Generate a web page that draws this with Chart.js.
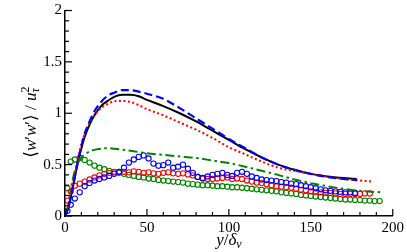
<!DOCTYPE html>
<html>
<head>
<meta charset="utf-8">
<script src="https://cdn.jsdelivr.net/npm/chart.js@4.4.1/dist/chart.umd.min.js"></script>
<style>
html, body { margin: 0; padding: 0; background: #fff; }
</style>
</head>
<body>
<canvas id="myChart" width="407" height="252"></canvas>
<script>
// line curves (y/delta_nu positions and values)
const lineX = [0, 2, 4, 6, 8, 10, 12, 15, 18, 22, 26, 30, 35, 40, 45, 50, 60, 70, 80, 90, 100, 110, 120, 130, 140, 150, 160, 170, 178];
const blackLine = [0, 0.08, 0.22, 0.38, 0.53, 0.66, 0.77, 0.89, 0.98, 1.07, 1.12, 1.16, 1.18, 1.18, 1.165, 1.13, 1.07, 1.00, 0.92, 0.83, 0.74, 0.65, 0.57, 0.50, 0.45, 0.41, 0.385, 0.37, 0.36];
const blueDash = [0, 0.08, 0.22, 0.38, 0.54, 0.68, 0.80, 0.92, 1.02, 1.11, 1.17, 1.20, 1.225, 1.225, 1.21, 1.19, 1.14, 1.05, 0.95, 0.85, 0.75, 0.66, 0.57, 0.50, 0.45, 0.41, 0.38, 0.36, 0.35];

const redX = [0, 2, 4, 6, 8, 10, 12, 15, 18, 22, 26, 30, 35, 40, 45, 50, 60, 70, 80, 90, 100, 110, 120, 130, 140, 150, 160, 170, 180, 188];
const redDot = [0, 0.1, 0.26, 0.42, 0.57, 0.70, 0.80, 0.91, 0.98, 1.05, 1.09, 1.115, 1.12, 1.11, 1.08, 1.04, 0.98, 0.91, 0.84, 0.76, 0.67, 0.60, 0.53, 0.47, 0.44, 0.41, 0.385, 0.36, 0.345, 0.335];

const greenX = [0, 2, 4, 6, 8, 10, 13, 16, 20, 25, 30, 40, 50, 60, 70, 80, 90, 100, 110, 120, 130, 140, 150, 160, 170, 180, 193];
const greenDashDot = [0, 0.12, 0.3, 0.44, 0.52, 0.57, 0.61, 0.635, 0.65, 0.66, 0.655, 0.635, 0.61, 0.595, 0.58, 0.565, 0.54, 0.515, 0.48, 0.44, 0.40, 0.355, 0.32, 0.29, 0.265, 0.245, 0.23];

// circle markers
const circX = [1.5, 3.5, 6, 9, 12, 15, 18, 21, 24, 27, 30, 33, 36, 39, 42, 45, 48, 51, 54, 57, 60, 63, 66, 69, 72, 75, 78, 81, 84, 87, 90, 93, 96, 99, 102, 105, 108, 111, 114, 117, 120, 123, 126, 129, 132, 135, 138, 141, 144, 147, 150, 153, 156, 159, 162, 165, 168, 171, 174, 177, 180, 183, 186, 189, 192];
const blueCirc = [0.05, 0.11, 0.17, 0.23, 0.29, 0.32, 0.345, 0.36, 0.375, 0.39, 0.41, 0.43, 0.47, 0.52, 0.55, 0.575, 0.59, 0.56, 0.51, 0.49, 0.495, 0.52, 0.47, 0.48, 0.50, 0.46, 0.42, 0.38, 0.37, 0.385, 0.40, 0.41, 0.42, 0.40, 0.39, 0.42, 0.43, 0.41, 0.385, 0.37, 0.355, 0.35, 0.345, 0.34, 0.33, 0.325, 0.315, 0.31, 0.30, 0.29, 0.28, 0.27, 0.26, 0.25, 0.245, 0.24, 0.235, 0.23, 0.23, 0.225];
const redCirc = [0.15, 0.24, 0.295, 0.315, 0.335, 0.355, 0.375, 0.395, 0.41, 0.42, 0.425, 0.43, 0.43, 0.425, 0.435, 0.43, 0.42, 0.425, 0.415, 0.41, 0.42, 0.425, 0.415, 0.41, 0.415, 0.405, 0.395, 0.38, 0.365, 0.36, 0.36, 0.365, 0.37, 0.375, 0.36, 0.365, 0.36, 0.345, 0.335, 0.325, 0.32, 0.31, 0.30, 0.29, 0.285, 0.28, 0.275, 0.265, 0.255, 0.25, 0.24, 0.235, 0.23, 0.225, 0.225, 0.22, 0.215, 0.215, 0.215, 0.215, 0.215, 0.22, 0.22];
const greenCirc = [0.27, 0.53, 0.55, 0.565, 0.545, 0.52, 0.49, 0.47, 0.455, 0.44, 0.43, 0.42, 0.41, 0.40, 0.39, 0.38, 0.375, 0.365, 0.36, 0.35, 0.345, 0.34, 0.335, 0.33, 0.325, 0.315, 0.31, 0.305, 0.30, 0.30, 0.295, 0.29, 0.29, 0.285, 0.28, 0.28, 0.275, 0.27, 0.265, 0.26, 0.255, 0.25, 0.245, 0.24, 0.23, 0.225, 0.22, 0.215, 0.205, 0.20, 0.195, 0.19, 0.185, 0.18, 0.175, 0.17, 0.165, 0.16, 0.16, 0.155, 0.155, 0.15, 0.15, 0.145, 0.145];

const SERIF = '"Liberation Serif", "DejaVu Serif", serif';
const GREEN = 'rgb(0, 128, 0)';

function pts(xs, ys) {
  return ys.map((v, i) => ({ x: xs[i], y: v }));
}

function lineSet(xs, ys, color, dash, width) {
  return {
    data: pts(xs, ys),
    showLine: true,
    borderColor: color,
    borderWidth: width,
    borderDash: dash,
    pointRadius: 0,
    fill: false,
    cubicInterpolationMode: 'monotone'
  };
}

function circSet(ys, color) {
  return {
    data: pts(circX, ys),
    showLine: false,
    borderColor: color,
    backgroundColor: 'rgba(0,0,0,0)',
    pointRadius: 2.6,
    pointBorderWidth: 1.1,
    pointStyle: 'circle'
  };
}

// ticks point into the plot, long at labelled values, short otherwise
const inwardTicks = {
  id: 'inwardTicks',
  afterDraw(chart) {
    const { ctx, chartArea } = chart;
    const x = chart.scales.x, y = chart.scales.y;
    ctx.save();
    ctx.strokeStyle = '#000';
    ctx.lineWidth = 1.2;
    x.ticks.forEach(t => {
      const px = x.getPixelForValue(t.value);
      const len = t.value % 50 === 0 ? 7 : 4;
      ctx.beginPath();
      ctx.moveTo(px, chartArea.bottom);
      ctx.lineTo(px, chartArea.bottom - len);
      ctx.stroke();
    });
    y.ticks.forEach(t => {
      const py = y.getPixelForValue(t.value);
      const len = Math.round(t.value * 10) % 5 === 0 ? 7 : 4;
      ctx.beginPath();
      ctx.moveTo(chartArea.left, py);
      ctx.lineTo(chartArea.left + len, py);
      ctx.stroke();
    });
    ctx.restore();
  }
};

// axis titles with sub/superscripts
function drawParts(ctx, parts, cx, baseY) {
  let total = 0;
  parts.forEach(p => { ctx.font = p.font; p.w = p.stack ? 0 : ctx.measureText(p.t).width; total += p.w; });
  let xx = cx - total / 2;
  parts.forEach(p => {
    ctx.font = p.font;
    ctx.fillText(p.t, xx, baseY + (p.dy || 0));
    xx += p.w;
  });
}

const axisTitles = {
  id: 'axisTitles',
  afterDraw(chart) {
    const ctx = chart.ctx;
    const ca = chart.chartArea;
    ctx.save();
    ctx.fillStyle = '#000';
    ctx.textBaseline = 'alphabetic';
    ctx.textAlign = 'left';
    const reg = '17px ' + SERIF, ita = 'italic 17px ' + SERIF;
    const small = '12px ' + SERIF, smallIta = 'italic 12px ' + SERIF;
    drawParts(ctx, [
      { t: 'y', font: ita },
      { t: '/', font: reg },
      { t: '\u03b4', font: ita },
      { t: '\u03bd', font: smallIta, dy: 3 }
    ], (ca.left + ca.right) / 2, 245);

    ctx.translate(36, 123);
    ctx.rotate(-Math.PI / 2);
    drawParts(ctx, [
      { t: '\u27e8', font: reg },
      { t: 'w', font: ita },
      { t: '\u2032', font: reg },
      { t: 'w', font: ita },
      { t: '\u2032', font: reg },
      { t: '\u27e9', font: reg },
      { t: ' / ', font: reg },
      { t: 'u', font: ita },
      { t: '2', font: small, dy: -7, stack: true },
      { t: '\u03c4', font: smallIta, dy: 3 }
    ], 0, 0);
    ctx.restore();
  }
};

const config = {
  type: 'scatter',
  data: {
    datasets: [
      lineSet(lineX, blueDash, 'rgb(0, 0, 255)', [8, 4], 2.2),
      lineSet(redX, redDot, 'rgb(255, 0, 0)', [2, 2.5], 2),
      lineSet(greenX, greenDashDot, GREEN, [9, 3.5, 2.5, 3.5], 2),
      lineSet(lineX, blackLine, '#000', [], 2),
      circSet(blueCirc, 'rgb(0, 0, 255)'),
      circSet(redCirc, 'rgb(255, 0, 0)'),
      circSet(greenCirc, GREEN)
    ]
  },
  options: {
    responsive: false,
    devicePixelRatio: 1,
    animation: false,
    layout: { padding: { top: 8, right: 14, left: 0, bottom: 0 } },
    plugins: {
      legend: { display: false },
      tooltip: { enabled: false }
    },
    scales: {
      x: {
        type: 'linear',
        min: 0,
        max: 200,
        afterFit: s => { s.height = 36; },
        grid: { display: false, drawTicks: false },
        border: { display: true, color: '#000', width: 1.5 },
        ticks: {
          stepSize: 10,
          autoSkip: false,
          maxRotation: 0,
          padding: 3,
          color: '#000',
          font: { family: SERIF, size: 15 },
          callback: v => (v % 50 === 0 ? String(v) : '')
        }
      },
      y: {
        type: 'linear',
        min: 0,
        max: 2,
        afterFit: s => { s.width = 65; },
        grid: { display: false, drawTicks: false },
        border: { display: true, color: '#000', width: 1.5 },
        ticks: {
          stepSize: 0.1,
          autoSkip: false,
          padding: 3,
          color: '#000',
          font: { family: SERIF, size: 15, lineHeight: 1 },
          callback: v => {
            const r = Math.round(v * 10);
            return r % 5 === 0 ? String(r / 10) : '';
          }
        }
      }
    }
  },
  plugins: [inwardTicks, axisTitles]
};

const myChart = new Chart(document.getElementById('myChart'), config);
</script>
</body>
</html>
